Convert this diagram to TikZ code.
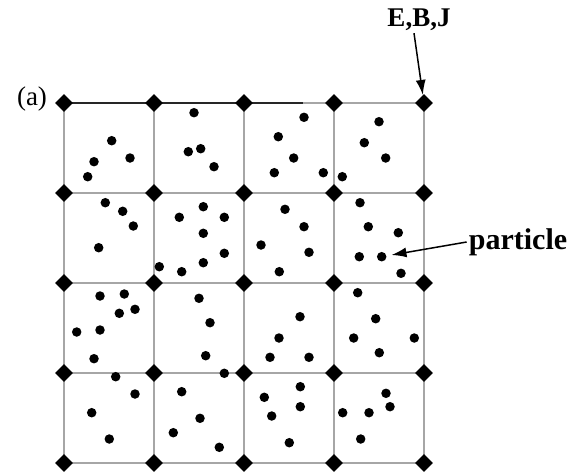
\documentclass[tikz,border=0pt]{standalone}
\usepackage{fontspec}
\setmainfont{Liberation Serif}
\usetikzlibrary{shapes.geometric,arrows.meta}

\tikzset{
  gridpt/.style={diamond,fill=black,inner sep=0pt,minimum width=18pt,minimum height=18pt},
  ptcl/.style={circle,fill=black,inner sep=0pt,minimum size=9.5pt},
  gridline/.style={gray!70,line width=1.4pt},
  arr/.style={-{Latex[length=15pt,width=10pt]},line width=1.5pt},
  lbl/.style={font=\bfseries\fontsize{27}{27}\selectfont,inner sep=2pt}
}

\begin{document}
\begin{tikzpicture}[x=1pt,y=-1pt]
    \useasboundingbox (0,0) rectangle (574,475);

    % Mesh lines
    \foreach \i in {0,...,4} {
        \draw[gridline] (64+90*\i,103) -- (64+90*\i,463);
        \draw[gridline] (64,103+90*\i) -- (424,103+90*\i);
    }
    \draw[black!85,line width=1.4pt] (64,103) -- (303,103);

    % Grid points (fields live here)
    \foreach \i in {0,...,4}
        \foreach \j in {0,...,4}
            \node[gridpt] (g\i\j) at (64+90*\i,103+90*\j) {};

    % Particles
    \foreach \px/\py in {
        111.7/140.7, 130/158, 94/161.7, 87.7/176.7,
        194/112.7, 188.3/151.7, 200.7/148.7, 214/166.7,
        304/117.3, 278.3/136.7, 293.7/158, 274.3/172.7, 323.3/172.7, 342.3/176.7,
        379/121.7, 364.3/142.7, 385.7/158,
        105.3/202.7, 122.7/211.3, 133.3/226, 98.7/247.7,
        179.3/217.3, 203.3/206.7, 224.3/217.3, 203.3/233.3, 224.3/253.3,
        203.3/262.7, 159.3/266.7, 181.7/271.7,
        285/209.3, 304/226.7, 261/245, 309/252.3, 279.3/271.7,
        360/202.7, 368.3/226.7, 398.3/232.7, 359.3/256.7, 401/273.3,
        100/296, 124.3/294, 119.3/313.3, 135/309.3, 76.7/332, 100/330, 94/358.7,
        199/298.3, 210/322.7, 205.7/355.7,
        300/316.7, 279/338, 270/357.3, 309/357.3,
        357.7/292.7, 375.7/318.7, 353.7/338, 414.3/338, 379.3/352.7,
        115.7/376.7, 135/394, 91.7/412.7, 109.3/439,
        224.3/373.3, 181.7/391.7, 200/418.3, 173.3/432.7, 219.3/447.3,
        300.3/386.7, 264.3/397.3, 300.3/406.7, 271.7/416, 289.3/442.7,
        386/393.3, 390/406.7, 342.7/412.7, 369/412.7, 360.7/439}
        \node[ptcl] at (\px,\py) {};
    \node[ptcl] (prt) at (381.7,256.7) {};

    % Labels
    \node[font=\fontsize{27}{27}\selectfont] (tag) at (32,99) {(a)};
    \node[lbl] (ebj) at (419,20) {E,B,J};
    \node[lbl,font=\bfseries\fontsize{30}{30}\selectfont] (plabel) at (518,242) {particle};

    % Arrows
    \draw[arr] ([xshift=-5pt]ebj.south) -- (g40);
    \draw[arr,shorten >=5pt] (plabel.west) -- (prt);

\end{tikzpicture}
\end{document}
